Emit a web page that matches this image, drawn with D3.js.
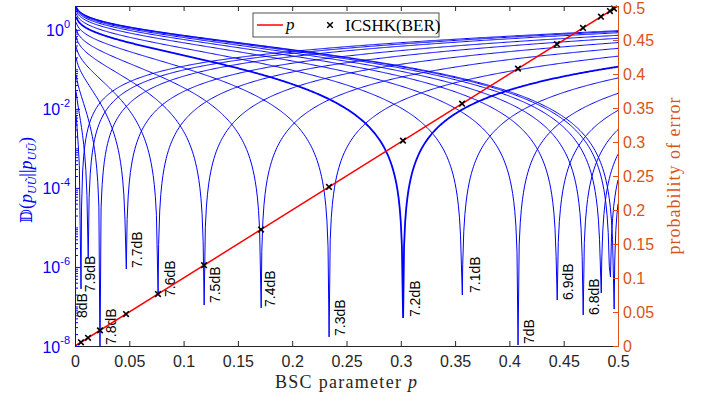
<!DOCTYPE html>
<html>
<head>
<meta charset="utf-8">
<script src="https://cdn.jsdelivr.net/npm/d3@7"></script>
<style>
  body { margin: 0; background: #fff; }
  svg text { font-family: "Liberation Sans", Arial, sans-serif; }
</style>
</head>
<body>
<div id="chart"></div>
<script>
// values
var snrNames = ["8dB", "7.9dB", "7.8dB", "7.7dB", "7.6dB", "7.5dB", "7.4dB", "7.3dB",
                "7.2dB", "7.1dB", "7dB", "6.9dB", "6.8dB", "6.7dB", "6.6dB", "6.5dB"];
// BER of ICSHK at each SNR (= where each divergence curve dips)
var berVals = [0.0055, 0.012, 0.023, 0.047, 0.0764, 0.1188, 0.1713, 0.2339,
               0.302, 0.3564, 0.4079, 0.4438, 0.4678, 0.4843, 0.4926, 0.4963];
// lowest value reached in each dip (limited by the p grid of the original)
var dipMin = [2.8e-7, 1.7e-6, 5e-9, 8.9e-7, 1.95e-7, 1.09e-7, 9.2e-8, 1.7e-8,
              5.1e-8, 1.95e-7, 1.06e-8, 1.46e-7, 6.1e-8, 2.2e-7, 5.6e-7, 8.6e-8];
// dB text anchors (data coords), only the first 13 curves are labelled
var labelP = [0.0064, 0.0138, 0.0331, 0.0571, 0.0875, 0.1289, 0.1796, 0.244,
              0.313, 0.3683, 0.418, 0.454, 0.478];
var labelD = [5.1e-8, 2.3e-7, 1.06e-8, 9.4e-7, 1.74e-7, 1.22e-7, 9.7e-8, 1.79e-8,
              5.4e-8, 2.19e-7, 1.12e-8, 1.46e-7, 6.1e-8];
var pLine = [0, 0.5];
var xTicks = [0, 0.05, 0.1, 0.15, 0.2, 0.25, 0.3, 0.35, 0.4, 0.45, 0.5];
var yLeftTicks = [1e-8, 1e-6, 1e-4, 1e-2, 1];
var yRightTicks = [0, 0.05, 0.1, 0.15, 0.2, 0.25, 0.3, 0.35, 0.4, 0.45, 0.5];

var width = 702;
var height = 401;
var blue = "#0000ff", orange = "#D95319", dark = "#262626";

var svg = d3.select("#chart")
            .append("svg")
            .attr("width", width)
            .attr("height", height);

var x = d3.scaleLinear().domain([0, 0.5]).range([75, 618]);
var yL = d3.scaleLog().domain([1e-8, 4]).range([346, 6]);
var yR = d3.scaleLinear().domain([0, 0.5]).range([346, 6]);

svg.append("clipPath").attr("id", "plotclip")
   .append("rect")
   .attr("x", 75).attr("y", 6).attr("width", 543).attr("height", 340);

// binary divergence D(q || p) in bits
function kl(q, p) {
  return q * Math.log2(q / p) + (1 - q) * Math.log2((1 - q) / (1 - p));
}

var pGrid = d3.range(1, 501).map(function(i) { return i / 1000; });

function curvePoints(q, dmin) {
  var delta = Math.sqrt(2 * q * (1 - q) * Math.LN2 * dmin);
  var pd = q + delta > 0.5 ? q - delta : q + delta;
  var nearest = d3.minIndex(pGrid, function(p) { return Math.abs(p - q); });
  return pGrid.map(function(p, i) {
    var pp = i === nearest ? pd : p;
    return [pp, kl(q, pp)];
  }).sort(function(a, b) { return a[0] - b[0]; });
}

var line = d3.line()
  .x(function(d) { return x(d[0]); })
  .y(function(d) { return yL(Math.max(d[1], 1e-12)); });

var curves_g = svg.append("g").attr("clip-path", "url(#plotclip)");

curves_g.selectAll("path.kl")
  .data(berVals)
  .enter()
  .append("path")
  .attr("class", "kl")
  .attr("d", function(q, i) { return line(curvePoints(q, dipMin[i])); })
  .attr("fill", "none")
  .attr("stroke", blue)
  .attr("stroke-width", function(q, i) { return snrNames[i] === "7.2dB" ? 1.8 : 1; });

// dB labels, rotated, not clipped
svg.selectAll("text.db")
  .data(labelP)
  .enter()
  .append("text")
  .attr("class", "db")
  .attr("transform", function(p, i) {
    return "translate(" + x(p) + "," + yL(labelD[i]) + ") rotate(-90)";
  })
  .attr("dominant-baseline", "central")
  .style("font-size", "14px")
  .attr("fill", "#000")
  .text(function(p, i) { return snrNames[i]; });

// red p line on right axis
svg.append("path")
  .attr("clip-path", "url(#plotclip)")
  .attr("d", d3.line().x(function(d) { return x(d); }).y(function(d) { return yR(d); })(pLine))
  .attr("fill", "none")
  .attr("stroke", "#ff0000")
  .attr("stroke-width", 1.5);

svg.selectAll("path.cross")
  .data(berVals)
  .enter()
  .append("path")
  .attr("class", "cross")
  .attr("transform", function(d) { return "translate(" + x(d) + "," + yR(d) + ")"; })
  .attr("d", "M-2.8,-2.8L2.8,2.8M-2.8,2.8L2.8,-2.8")
  .attr("stroke", "#000")
  .attr("stroke-width", 1.6);

// axes
var xAxis = svg.append("g")
  .attr("transform", "translate(0,346)")
  .call(d3.axisBottom(x).tickValues(xTicks).tickSizeInner(-5).tickSizeOuter(0).tickPadding(10)
        .tickFormat(function(d) { return String(+d.toFixed(2)); }));
xAxis.selectAll("path, line").attr("stroke", dark);
xAxis.selectAll("text").attr("fill", dark).style("font-size", "16px");

var topAxis = svg.append("g")
  .attr("transform", "translate(0,6)")
  .call(d3.axisTop(x).tickValues(xTicks).tickSizeInner(-5).tickSizeOuter(0).tickFormat(""));
topAxis.selectAll("path, line").attr("stroke", dark);

var minors = [];
d3.range(-8, 1).forEach(function(k) {
  d3.range(2, 10).forEach(function(m) {
    var v = m * Math.pow(10, k);
    if (v <= 4) minors.push(v);
  });
});
[1e-7, 1e-5, 1e-3, 1e-1].forEach(function(v) { minors.push(v); });

var leftMinor = svg.append("g")
  .attr("transform", "translate(75,0)")
  .call(d3.axisLeft(yL).tickValues(minors).tickSizeInner(-3).tickSizeOuter(0).tickFormat(""));
leftMinor.selectAll("path, line").attr("stroke", blue);

var leftAxis = svg.append("g")
  .attr("transform", "translate(75,0)")
  .call(d3.axisLeft(yL).tickValues(yLeftTicks).tickSizeInner(-5).tickSizeOuter(0).tickPadding(5)
        .tickFormat(function() { return ""; }));
leftAxis.selectAll("path, line").attr("stroke", blue);
leftAxis.selectAll("text").each(function(d) {
  var t = d3.select(this)
    .attr("fill", blue)
    .attr("dy", null)
    .attr("dominant-baseline", "central")
    .style("font-size", "16px");
  t.append("tspan").text("10");
  t.append("tspan").attr("dy", "-0.55em").style("font-size", "11px")
    .text(String(Math.round(Math.log10(d))));
});

var rightAxis = svg.append("g")
  .attr("transform", "translate(618,0)")
  .call(d3.axisRight(yR).tickValues(yRightTicks).tickSizeInner(-5).tickSizeOuter(0).tickPadding(5)
        .tickFormat(function(d) { return String(+d.toFixed(2)); }));
rightAxis.selectAll("path, line").attr("stroke", orange);
rightAxis.selectAll("text").attr("fill", orange).style("font-size", "16px")
  .attr("dy", function(d) { return d === 0.5 ? "0.45em" : "0.32em"; });

// axis titles
svg.append("text")
  .attr("x", 346).attr("y", 388)
  .attr("text-anchor", "middle")
  .style("font-family", "'Liberation Serif', serif")
  .style("font-size", "18px")
  .attr("fill", dark)
  .attr("textLength", 142)
  .html("BSC parameter <tspan font-style='italic'>p</tspan>");

svg.append("text")
  .attr("transform", "translate(680,176) rotate(-90)")
  .attr("text-anchor", "middle")
  .style("font-family", "'Liberation Serif', serif")
  .style("font-size", "18px")
  .attr("fill", orange)
  .attr("textLength", 157)
  .text("probability of error");

var ylab = svg.append("text")
  .attr("transform", "translate(32,180) rotate(-90)")
  .attr("text-anchor", "middle")
  .style("font-family", "'Liberation Serif', serif")
  .style("font-size", "18px")
  .attr("fill", blue);
ylab.append("tspan").style("font-family", "'DejaVu Serif', serif").style("font-size", "16px").text("\uD835\uDD3B");
ylab.append("tspan").text("(");
ylab.append("tspan").attr("font-style", "italic").text("p");
ylab.append("tspan").attr("dy", 4).style("font-size", "12px").attr("font-style", "italic").text("U\u0168");
ylab.append("tspan").attr("dy", -4).text("||");
ylab.append("tspan").attr("font-style", "italic").text("p");
ylab.append("tspan").attr("dy", 4).style("font-size", "12px").attr("font-style", "italic").text("U\u016A");
ylab.append("tspan").attr("dy", -4).text(")");

// legend
var legend = svg.append("g");
legend.append("rect")
  .attr("x", 253).attr("y", 13).attr("width", 186).attr("height", 24)
  .attr("fill", "#fff").attr("stroke", dark).attr("stroke-width", 0.8);
legend.append("line")
  .attr("x1", 257).attr("x2", 283).attr("y1", 25).attr("y2", 25)
  .attr("stroke", "#ff0000").attr("stroke-width", 1.5);
legend.append("text")
  .attr("x", 286).attr("y", 30)
  .style("font-family", "'Liberation Serif', serif").style("font-size", "17px")
  .attr("font-style", "italic").attr("fill", "#000").text("p");
legend.append("path")
  .attr("transform", "translate(330,25)")
  .attr("d", "M-2.8,-2.8L2.8,2.8M-2.8,2.8L2.8,-2.8")
  .attr("stroke", "#000").attr("stroke-width", 1.5);
legend.append("text")
  .attr("x", 345).attr("y", 31)
  .style("font-family", "'Liberation Serif', serif").style("font-size", "17px")
  .attr("fill", "#000").text("ICSHK(BER)");
</script>
</body>
</html>
